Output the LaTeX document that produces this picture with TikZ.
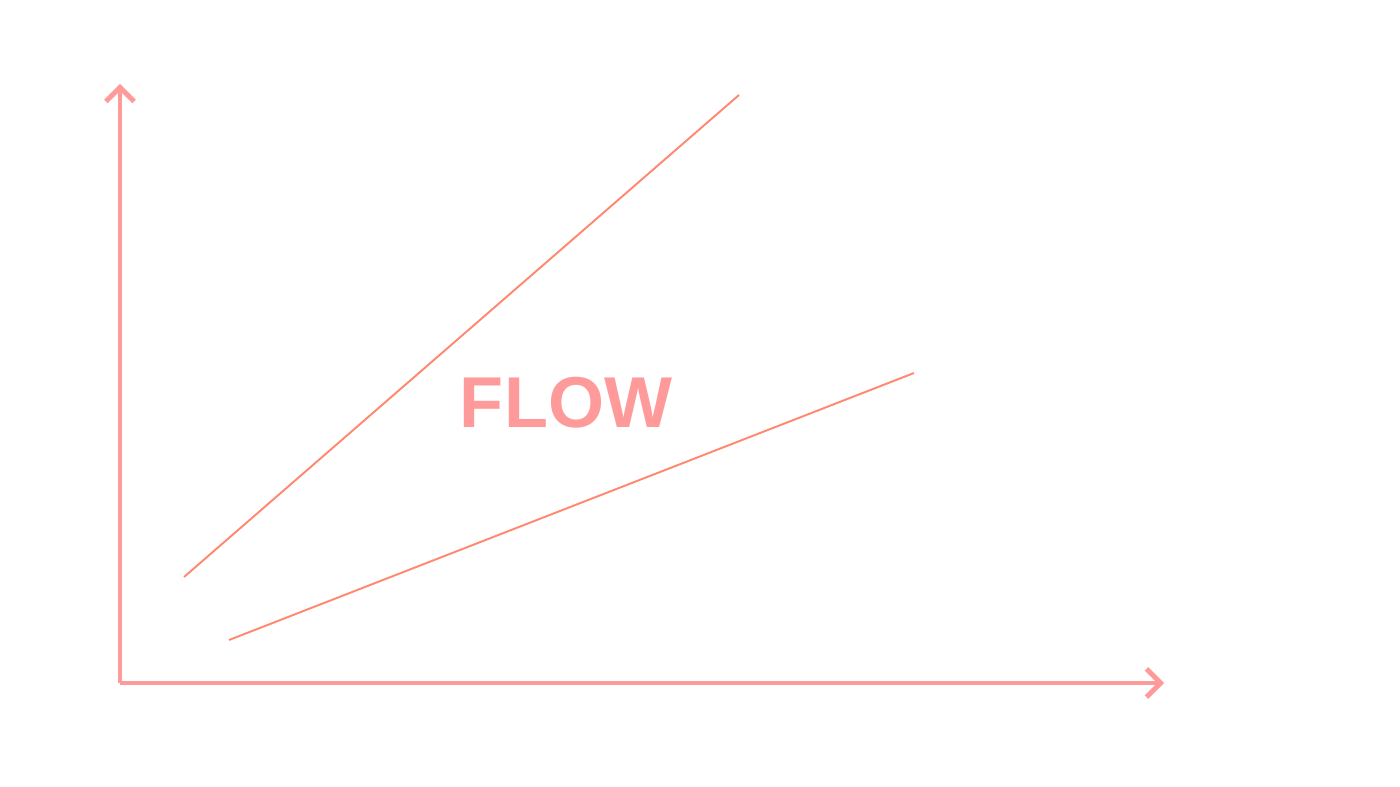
\documentclass[tikz,border=0pt]{standalone}
\usepackage{fontspec}
\setmainfont{Liberation Sans}
\usetikzlibrary{arrows.meta}
\definecolor{flowred}{HTML}{FF9A9A}
\begin{document}
\begin{tikzpicture}[x=0.02cm, y=-0.02cm]
		
		\tikzstyle{axis}=[line width=2.8pt, flowred, -{Straight Barb[length=8pt, width=16pt, line width=2.8pt]}]
		\tikzstyle{ray}=[line width=1.1pt, flowred!90!red!80!orange]
		
		\useasboundingbox (0,0) rectangle (1400,787);
		
		\coordinate (o) at (120,683);
		\coordinate (ytop) at (120,84);
		\coordinate (xend) at (1164,683);
		
		\coordinate (a1) at (184,577);
		\coordinate (a2) at (739,95);
		\coordinate (b1) at (229,640);
		\coordinate (b2) at (914,373);
		
		\node[text=flowred, font=\bfseries\fontsize{41}{41}\selectfont] (flow) at (566,403) {FLOW};
		
		% Axes
		\draw[axis] (o) -- (ytop);
		\draw[axis] (o) -- (xend);
		
		% Rays
		\draw[ray] (a1) -- (a2);
		\draw[ray] (b1) -- (b2);
\end{tikzpicture}
\end{document}
